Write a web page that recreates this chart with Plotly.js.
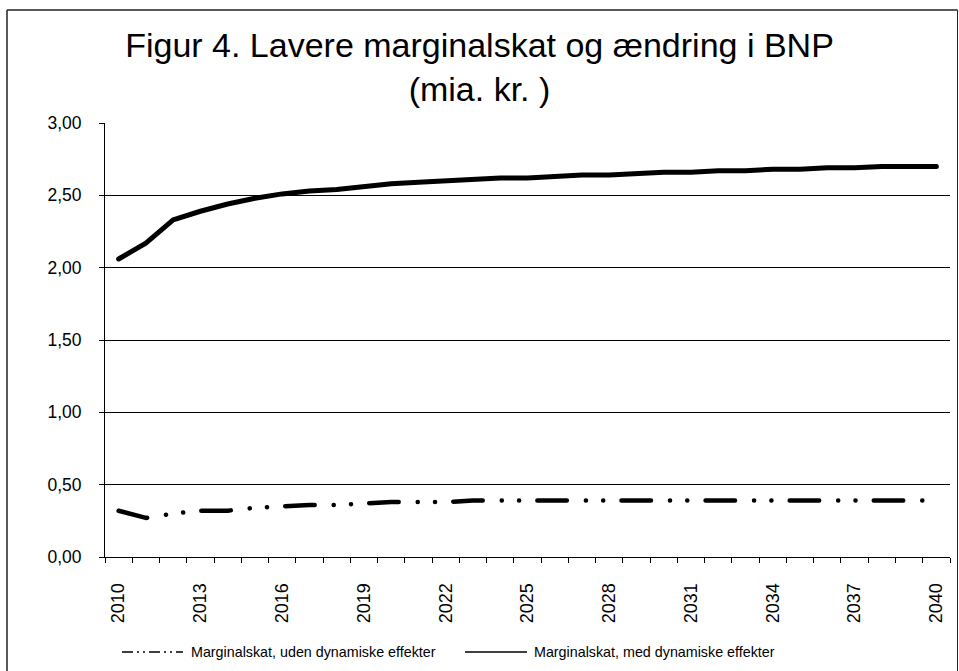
<!DOCTYPE html>
<html><head><meta charset="utf-8">
<script src="https://cdn.plot.ly/plotly-3.0.1.min.js"></script>
<style>
html,body{margin:0;padding:0;background:#fff;}
#chart{width:959px;height:671px;}
.scatterlayer .js-line{stroke-linecap:round !important;stroke-linejoin:round !important;}
</style></head><body><div id="chart"></div>
<script>
const years = ["2010","2011","2012","2013","2014","2015","2016","2017","2018","2019","2020",
  "2021","2022","2023","2024","2025","2026","2027","2028","2029","2030",
  "2031","2032","2033","2034","2035","2036","2037","2038","2039","2040"];
const tickLabels = ["2010","","","2013","","","2016","","","2019","",
  "","2022","","","2025","","","2028","","",
  "2031","","","2034","","","2037","","","2040"];
const udenName = "Marginalskat, uden dynamiske effekter";
const medName = "Marginalskat, med dynamiske effekter";
const udenValues = [0.32,0.27,0.30,0.32,0.32,0.34,0.35,0.36,0.36,0.37,0.38,
  0.38,0.38,0.39,0.39,0.39,0.39,0.39,0.39,0.39,0.39,
  0.39,0.39,0.39,0.39,0.39,0.39,0.39,0.39,0.39,0.39];
const medValues = [2.06,2.17,2.33,2.39,2.44,2.48,2.51,2.53,2.54,2.56,2.58,
  2.59,2.60,2.61,2.62,2.62,2.63,2.64,2.64,2.65,2.66,
  2.66,2.67,2.67,2.68,2.68,2.69,2.69,2.70,2.70,2.70];
const titleText = "Figur 4. Lavere marginalskat og ændring i BNP<br>(mia. kr. )";

const W = 959, H = 671;
const M = {l:105, r:9, t:123, b:114};
const PW = W - M.l - M.r, PH = H - M.t - M.b;
const px = x => (x - M.l) / PW;
const py = y => (H - M.b - y) / PH;
const FONT = "Liberation Sans, Arial, sans-serif";

const traces = [
  {x: years, y: udenValues, name: udenName, type: "scatter", mode: "lines",
   line: {color: "#000", width: 4.5, dash: "29.5px,19px,0.1px,17.2px,0.1px,18.2px"}},
  {x: years, y: medValues, name: medName, type: "scatter", mode: "lines",
   line: {color: "#000", width: 5}}
];

const legY = py(652);
const shapes = [
  {type:"line", xref:"paper", yref:"paper", x0:px(7), x1:px(7), y0:py(10), y1:py(700), line:{color:"#222", width:1.5}},
  {type:"line", xref:"paper", yref:"paper", x0:px(7), x1:px(957.5), y0:py(10), y1:py(10), line:{color:"#222", width:1.5}},
  {type:"line", xref:"paper", yref:"paper", x0:px(957.5), x1:px(957.5), y0:py(10), y1:py(700), line:{color:"#222", width:1}},
  {type:"line", xref:"paper", yref:"paper", x0:px(122), x1:px(183), y0:legY, y1:legY, line:{color:"#000", width:1.3, dash:"11px,4px,2px,4px,2px,4px"}},
  {type:"line", xref:"paper", yref:"paper", x0:px(465), x1:px(527), y0:legY, y1:legY, line:{color:"#000", width:1.3}}
];
const annotations = [
  {xref:"paper", yref:"paper", x:px(189), y:legY, xanchor:"left", yanchor:"middle", showarrow:false, text:udenName, font:{family:FONT, size:14.3, color:"#000"}},
  {xref:"paper", yref:"paper", x:px(532), y:legY, xanchor:"left", yanchor:"middle", showarrow:false, text:medName, font:{family:FONT, size:14.3, color:"#000"}}
];

const layout = {
  width: W, height: H,
  margin: M,
  paper_bgcolor: "#fff", plot_bgcolor: "#fff",
  separators: ",.",
  showlegend: false,
  font: {family: FONT, color: "#000"},
  title: {text: titleText, font: {family: FONT, size: 34, color: "#000"},
    xref: "container", x: 0.5, xanchor: "center", yref: "container", y: 1 - 57/H, yanchor: "top"},
  xaxis: {type: "category", range: [-0.5, 30.5], tickmode: "array", tickvals: years, ticktext: tickLabels,
    tickson: "boundaries", ticks: "outside", ticklen: 5, tickwidth: 1, tickcolor: "#000",
    showline: true, linecolor: "#000", linewidth: 1, showgrid: false, zeroline: false,
    tickangle: -90, tickfont: {family: FONT, size: 18, color: "#000"}, ticklabelstandoff: 18},
  yaxis: {range: [0, 3], tick0: 0, dtick: 0.5, tickformat: ".2f", ticks: "outside", ticklen: 5,
    tickwidth: 1, tickcolor: "#000", showline: true, linecolor: "#000", linewidth: 1,
    showgrid: true, gridcolor: "#000", gridwidth: 1, zeroline: false,
    tickfont: {family: FONT, size: 17.5, color: "#000"}, ticklabelstandoff: 14},
  shapes: shapes,
  annotations: annotations
};

Plotly.newPlot("chart", traces, layout, {displayModeBar: false, staticPlot: true});
</script></body></html>
